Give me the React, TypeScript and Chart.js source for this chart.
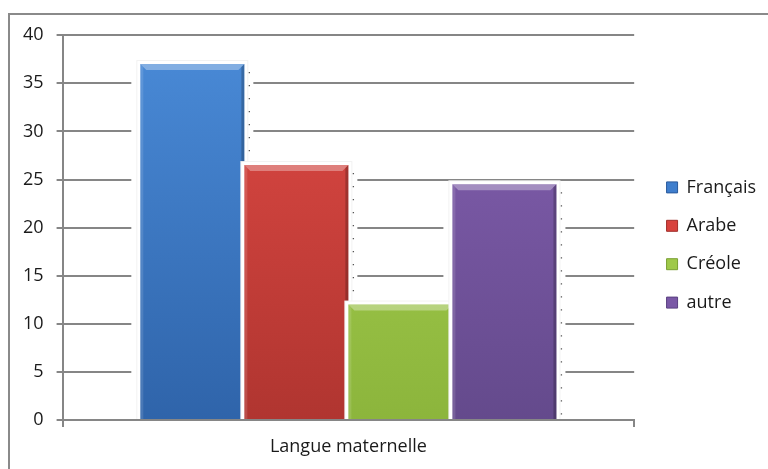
import React, { useEffect, useRef } from "react";
import { Chart, registerables } from "chart.js";

Chart.register(...registerables);

// ---- data ----
const categories = ["Langue maternelle"];
const seriesNames = ["Français", "Arabe", "Créole", "autre"];
const francais = [37];
const arabe = [26.5];
const creole = [12];
const autre = [24.5];
const yMin = 0;
const yMax = 40;
const yStep = 5;

// ---- styles ----
const topColors = ["#4a8bd8", "#e04a45", "#aad352", "#8560b2"];
const bottomColors = ["#2f64aa", "#b03530", "#8cb53c", "#644a8c"];
const midColors = ["#3f7ecd", "#d8423d", "#9fc94a", "#7a58a6"];
const edgeColors = ["#2a5a9c", "#a02e2a", "#7aa033", "#5a4080"];
const gridColor = "#868686";
const textColor = "#1a1a1a";
const fontFamily = "'Open Sans', 'Noto Sans', sans-serif";
const fontSize = 18;

function barBox(bar: any) {
  const { x, y, base, width } = bar.getProps(["x", "y", "base", "width"], true);
  return { l: x - width / 2, r: x + width / 2, y, base, width };
}

const barFx = {
  id: "barFx",
  beforeDatasetsDraw(chart: any) {
    const ctx = chart.ctx;
    const metas = chart
      .getSortedVisibleDatasetMetas()
      .slice()
      .sort((a: any, b: any) => a.index - b.index);
    // clear gridlines around the bars
    ctx.save();
    ctx.fillStyle = "#ffffff";
    metas.forEach((meta: any) => {
      meta.data.forEach((bar: any) => {
        const { l, y, base, width } = barBox(bar);
        ctx.fillRect(l - 9, y - 3, width + 18, base - y + 3);
      });
    });
    ctx.restore();
    metas.forEach((meta: any) => {
      // halo
      ctx.save();
      meta.data.forEach((bar: any) => {
        const { l, y, base, width } = barBox(bar);
        ctx.fillStyle = "#f2f2f2";
        ctx.fillRect(l - 4, y - 4, width + 8, base - y + 4);
        ctx.fillStyle = "#ffffff";
        ctx.fillRect(l - 3, y - 3, width + 6, base - y + 3);
      });
      ctx.restore();
      // the bars themselves
      meta.controller.draw();
      // bevel + dotted shadow
      ctx.save();
      meta.data.forEach((bar: any) => {
        const { l, r, y, base } = barBox(bar);
        const b = 6;
        ctx.fillStyle = "rgba(255,255,255,0.32)";
        ctx.beginPath();
        ctx.moveTo(l, y);
        ctx.lineTo(r, y);
        ctx.lineTo(r - b, y + b);
        ctx.lineTo(l + b, y + b);
        ctx.closePath();
        ctx.fill();
        ctx.fillStyle = "rgba(0,0,0,0.22)";
        ctx.beginPath();
        ctx.moveTo(r, y);
        ctx.lineTo(r, base);
        ctx.lineTo(r - 3, base);
        ctx.lineTo(r - 3, y + 3);
        ctx.closePath();
        ctx.fill();
        ctx.fillStyle = "rgba(255,255,255,0.12)";
        ctx.beginPath();
        ctx.moveTo(l, y);
        ctx.lineTo(l + 3, y + 3);
        ctx.lineTo(l + 3, base);
        ctx.lineTo(l, base);
        ctx.closePath();
        ctx.fill();
        ctx.strokeStyle = "#555";
        ctx.lineWidth = 1.3;
        ctx.setLineDash([1.3, 11.7]);
        ctx.beginPath();
        ctx.moveTo(r + 5, y + 8);
        ctx.lineTo(r + 5, base);
        ctx.stroke();
      });
      ctx.restore();
    });
    return false;
  },
};

export default function App() {
  const canvasRef = useRef<HTMLCanvasElement | null>(null);

  useEffect(() => {
    const canvas = canvasRef.current;
    if (!canvas) return;
    const seriesValues = [francais, arabe, creole, autre];
    const grad = (i: number) => (c: any) => {
      const area = c.chart.chartArea;
      if (!area) return midColors[i];
      const g = c.chart.ctx.createLinearGradient(0, area.top, 0, area.bottom);
      g.addColorStop(0, topColors[i]);
      g.addColorStop(1, bottomColors[i]);
      return g;
    };
    const font = { family: fontFamily, size: fontSize };
    const chart = new Chart(canvas, {
      type: "bar",
      data: {
        labels: categories,
        datasets: seriesNames.map((name, i) => ({
          label: name,
          data: seriesValues[i],
          backgroundColor: grad(i),
          borderWidth: 0,
          categoryPercentage: 0.728,
          barPercentage: 1,
        })),
      },
      options: {
        animation: false,
        responsive: true,
        maintainAspectRatio: false,
        layout: { padding: { top: 6, bottom: 0, left: 0, right: 2 } },
        font,
        plugins: {
          tooltip: { enabled: false },
          legend: {
            position: "right",
            labels: {
              color: textColor,
              font,
              boxWidth: 11,
              boxHeight: 11,
              padding: 20.4,
              generateLabels: () =>
                seriesNames.map((n, i) => ({
                  text: n,
                  fillStyle: midColors[i],
                  strokeStyle: edgeColors[i],
                  lineWidth: 1,
                  hidden: false,
                  datasetIndex: i,
                  fontColor: textColor,
                })),
            },
          },
        },
        scales: {
          x: {
            type: "category",
            z: 1,
            grid: {
              display: true,
              drawOnChartArea: false,
              drawTicks: true,
              tickLength: 7,
              color: gridColor,
              lineWidth: 2,
              offset: true,
            },
            border: { display: true, color: gridColor, width: 2 },
            ticks: { color: textColor, font, padding: 9 },
            afterFit: (s: any) => {
              s.height = 49;
            },
          },
          xTop: {
            type: "linear",
            axis: "x",
            position: "top",
            display: true,
            grid: { display: false },
            ticks: { display: false },
            border: { display: false },
            afterFit: (s: any) => {
              s.height = 6;
            },
          },
          y: {
            type: "linear",
            min: yMin,
            max: yMax,
            ticks: {
              stepSize: yStep,
              color: textColor,
              font: { family: fontFamily, size: fontSize, lineHeight: 0.8 },
              padding: 13,
            },
            grid: { color: gridColor, lineWidth: 2, tickLength: 6 },
            border: { display: true, color: gridColor, width: 2 },
          },
          yRight: {
            type: "linear",
            position: "right",
            display: true,
            grid: { display: false },
            ticks: { display: false },
            border: { display: false },
            afterFit: (s: any) => {
              s.width = 12;
            },
          },
        },
      },
      plugins: [barFx],
    });
    return () => chart.destroy();
  }, []);

  return (
    <div
      style={{
        position: "absolute",
        left: 8,
        top: 13,
        width: 758,
        height: 454,
        borderTop: "2px solid #8a8a8a",
        borderLeft: "2px solid #8a8a8a",
        background: "#fff",
      }}
    >
      <canvas ref={canvasRef} />
    </div>
  );
}
